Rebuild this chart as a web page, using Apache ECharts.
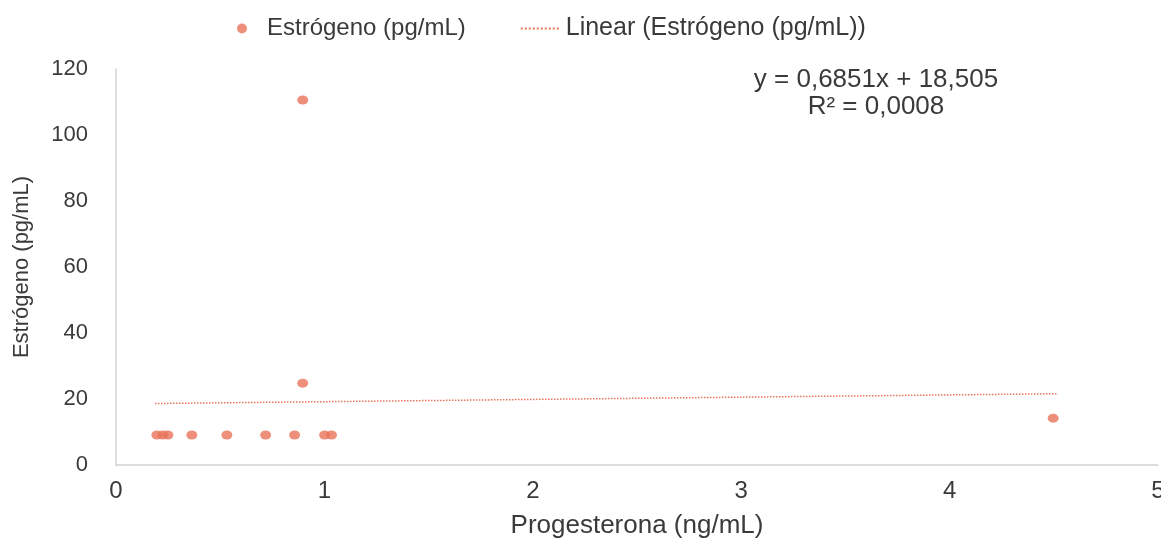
<!DOCTYPE html>
<html><head><meta charset="utf-8">
<script src="https://cdn.jsdelivr.net/npm/echarts@6/dist/echarts.min.js"></script>
<style>html,body{margin:0;padding:0;background:#fff}#c{width:1161px;height:540px}</style>
</head><body><div id="c"></div>
<script>
const progesterona = [0.196, 0.225, 0.249, 0.364, 0.532, 0.718, 0.857, 1.001, 1.034, 0.896, 0.896, 4.497];
const estrogeno    = [9.1,   9.1,   9.1,   9.1,   9.1,   9.1,   9.1,   9.1,   9.1,   24.8,  110.6, 14.2];
const trendX = [0.187, 4.52];
const trendY = [18.63, 21.6];
const xTicks = [0, 1, 2, 3, 4, 5];
const yTicks = [0, 20, 40, 60, 80, 100, 120];
const seriesName = 'Estrógeno (pg/mL)';
const trendName = 'Linear (Estrógeno (pg/mL))';
const equation = ['y = 0,6851x + 18,505', 'R² = 0,0008'];

const font = 'Liberation Sans, Arial, sans-serif';
const txt = '#3a3a3a';
const col = '#E8735A';
const chart = echarts.init(document.getElementById('c'));
chart.setOption({
  animation: false,
  textStyle: {fontFamily: font},
  grid: {left: 116, right: 3, top: 69, bottom: 75, outerBoundsMode: 'none', containLabel: false},
  legend: {
    top: 11, left: 232, itemGap: 54, itemWidth: 40, itemHeight: 10,
    textStyle: {fontSize: 24, color: txt, fontFamily: font},
    data: [
      {name: seriesName, icon: 'circle'},
      {name: trendName, itemStyle: {opacity: 0}, textStyle: {fontSize: 25}}
    ]
  },
  xAxis: {
    type: 'value', min: xTicks[0], max: xTicks[xTicks.length-1], interval: 1,
    name: 'Progesterona (ng/mL)', nameLocation: 'middle', nameGap: 48,
    nameTextStyle: {fontSize: 26, color: txt},
    axisLine: {show: true, lineStyle: {color: '#d4d4d4', width: 1.5}},
    axisTick: {show: false},
    splitLine: {show: false},
    axisLabel: {fontSize: 24, color: txt, margin: 14}
  },
  yAxis: {
    type: 'value', min: yTicks[0], max: yTicks[yTicks.length-1], interval: 20,
    name: 'Estrógeno (pg/mL)', nameLocation: 'middle', nameGap: 83,
    nameTextStyle: {fontSize: 22, color: txt},
    axisLine: {show: true, lineStyle: {color: '#d4d4d4', width: 1.5}},
    axisTick: {show: false},
    splitLine: {show: false},
    axisLabel: {fontSize: 22, color: txt, margin: 28}
  },
  series: [
    {
      name: seriesName, type: 'scatter', symbolSize: [11, 9],
      itemStyle: {color: col},
      data: progesterona.map((x, i) => [x, estrogeno[i]])
    },
    {
      name: trendName, type: 'line', symbol: 'none',
      lineStyle: {color: col, type: 'dotted', width: 1.5},
      itemStyle: {color: col},
      data: trendX.map((x, i) => [x, trendY[i]])
    }
  ],
  graphic: [
    {type: 'text', x: 876, y: 80, style: {text: equation[0], font: '26px ' + font, fill: txt, align: 'center', verticalAlign: 'middle'}},
    {type: 'text', x: 876, y: 107, style: {text: equation[1], font: '26px ' + font, fill: txt, align: 'center', verticalAlign: 'middle'}}
  ]
});
</script></body></html>
